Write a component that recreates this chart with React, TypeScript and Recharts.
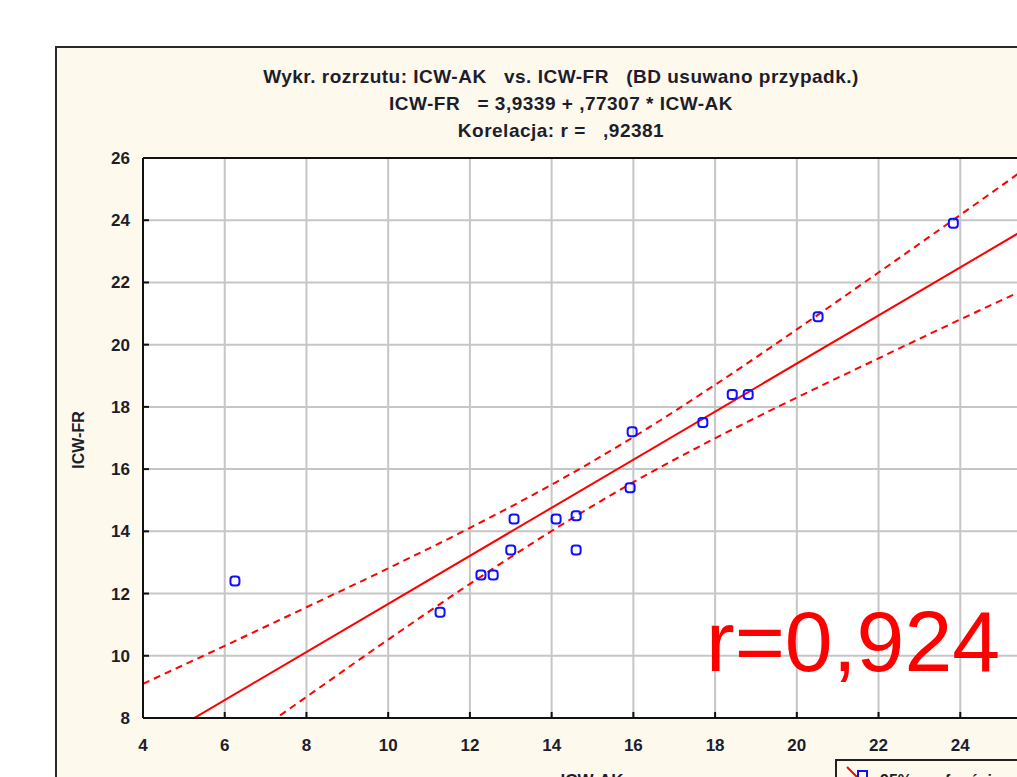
import React from "react";
import {
  ComposedChart,
  Scatter,
  Line,
  XAxis,
  YAxis,
  CartesianGrid,
  ReferenceLine,
} from "recharts";

// Observed points (ICW-AK, ICW-FR)
const icwAK = [6.25, 11.27, 12.27, 12.57, 13.08, 13.0, 14.11, 14.6, 14.6, 15.92, 15.97, 17.7, 18.42, 18.81, 20.52, 23.83];
const icwFR = [12.4, 11.4, 12.6, 12.6, 14.4, 13.4, 14.4, 14.5, 13.4, 15.4, 17.2, 17.5, 18.4, 18.4, 20.9, 23.9];

// Regression line end points
const fitX = [4, 26];
const fitY = [7.03, 24.03];

// 95% confidence band
const bandX = [4, 6, 8, 10, 12, 14, 16, 18, 20, 22, 24, 26];
const bandUpper = [9.1, 10.32, 11.56, 12.81, 14.11, 15.5, 17.03, 18.71, 20.49, 22.32, 24.17, 26.04];
const bandLower = [4.96, 6.83, 8.68, 10.52, 12.31, 14.01, 15.58, 16.99, 18.3, 19.56, 20.81, 22.03];

const xTicks = [4, 6, 8, 10, 12, 14, 16, 18, 20, 22, 24];
const yTicks = [8, 10, 12, 14, 16, 18, 20, 22, 24, 26];

const titleLines = [
  "Wykr. rozrzutu: ICW-AK   vs. ICW-FR   (BD usuwano przypadk.)",
  "ICW-FR   = 3,9339 + ,77307 * ICW-AK",
  "Korelacja: r =   ,92381",
];

const pointData = icwAK.map((x, i) => ({ x, y: icwFR[i] }));
const fitData = fitX.map((x, i) => ({ x, y: fitY[i] }));
const upperData = bandX.map((x, i) => ({ x, y: bandUpper[i] }));
const lowerData = bandX.map((x, i) => ({ x, y: bandLower[i] }));

const FONT = "'Liberation Sans', Arial, sans-serif";
const INK = "#1d1d2b";

const XTick = (props: any) => {
  const { x, y, payload } = props;
  return (
    <g>
      <line x1={x} x2={x} y1={y} y2={y - 6} stroke="#111" strokeWidth={2} />
      <text x={x} y={y + 33} textAnchor="middle" fontFamily={FONT} fontWeight="bold" fontSize={17} fill={INK}>
        {payload.value}
      </text>
    </g>
  );
};

const YTick = (props: any) => {
  const { x, y, payload } = props;
  return (
    <g>
      <line x1={x} x2={x + 6} y1={y} y2={y} stroke="#111" strokeWidth={2} />
      <text x={x - 13} y={y + 6} textAnchor="end" fontFamily={FONT} fontWeight="bold" fontSize={17} fill={INK}>
        {payload.value}
      </text>
    </g>
  );
};

const PointShape = (props: any) => {
  const { cx, cy } = props;
  return (
    <rect x={cx - 4.5} y={cy - 4.5} width={9} height={9} rx={3} fill="none" stroke="#1010ff" strokeWidth={2} />
  );
};

export default function App() {
  return (
    <div style={{ position: "fixed", left: 0, top: 0, width: 1017, height: 777, overflow: "hidden", background: "#ffffff" }}>
      <div
        style={{
          position: "absolute",
          left: 55,
          top: 46,
          width: 1100,
          height: 800,
          background: "#fdf9ed",
          border: "2px solid #2a2a2a",
        }}
      />
      <div style={{ position: "absolute", left: 0, top: 0 }}>
        <ComposedChart
          width={1100}
          height={777}
          margin={{ top: 158, right: 58, bottom: 29, left: 83 }}
        >
          <CartesianGrid stroke="#c6c6c6" strokeWidth={2} fill="#ffffff" />
          <XAxis
            type="number"
            dataKey="x"
            domain={[4, 26]}
            ticks={xTicks}
            allowDataOverflow
            height={30}
            tickSize={0}
            tickMargin={0}
            tickLine={false}
            axisLine={{ stroke: "#111", strokeWidth: 2 }}
            tick={<XTick />}
            interval={0}
          />
          <YAxis
            type="number"
            dataKey="y"
            domain={[8, 26]}
            ticks={yTicks}
            allowDataOverflow
            width={60}
            tickSize={0}
            tickMargin={0}
            tickLine={false}
            axisLine={{ stroke: "#111", strokeWidth: 2 }}
            tick={<YTick />}
            interval={0}
          />
          <ReferenceLine y={26} stroke="#111" strokeWidth={2} />
          <Line data={upperData} dataKey="y" type="monotone" stroke="#ff0000" strokeWidth={2} strokeDasharray="7 5" dot={false} isAnimationActive={false} />
          <Line data={lowerData} dataKey="y" type="monotone" stroke="#ff0000" strokeWidth={2} strokeDasharray="7 5" dot={false} isAnimationActive={false} />
          <Line data={fitData} dataKey="y" type="linear" stroke="#ff0000" strokeWidth={2} dot={false} isAnimationActive={false} />
          <Scatter data={pointData} dataKey="y" shape={<PointShape />} isAnimationActive={false} />
        </ComposedChart>
      </div>
      <svg width={1017} height={777} style={{ position: "absolute", left: 0, top: 0, pointerEvents: "none" }}>
        {titleLines.map((t, i) => (
          <text
            key={i}
            x={561}
            y={83 + i * 27}
            textAnchor="middle"
            fontFamily={FONT}
            fontWeight="bold"
            fontSize={19}
            letterSpacing={0.5}
            fill={INK}
            style={{ whiteSpace: "pre" }}
          >
            {t}
          </text>
        ))}
        <text x={84} y={440} transform="rotate(-90 84 440)" textAnchor="middle" fontFamily={FONT} fontWeight="bold" fontSize={16} fill={INK}>
          ICW-FR
        </text>
        <text x={592} y={786} textAnchor="middle" fontFamily={FONT} fontWeight="bold" fontSize={17} fill={INK}>
          ICW-AK
        </text>
        <text x={706} y={671} fontFamily={FONT} fontSize={86} fill="#ff0000">
          r=0,924
        </text>
        <rect x={836} y={760} width={300} height={40} fill="#fdf9ed" stroke="#222" strokeWidth={2} />
        <line x1={847} y1={767} x2={858} y2={778} stroke="#ff0000" strokeWidth={2} />
        <rect x={858} y={771} width={9} height={9} fill="none" stroke="#1010ff" strokeWidth={2} />
        <text x={880} y={786} fontFamily={FONT} fontWeight="bold" fontSize={16} fill={INK} style={{ whiteSpace: "pre" }}>
          95%  p.ufności
        </text>
      </svg>
    </div>
  );
}
